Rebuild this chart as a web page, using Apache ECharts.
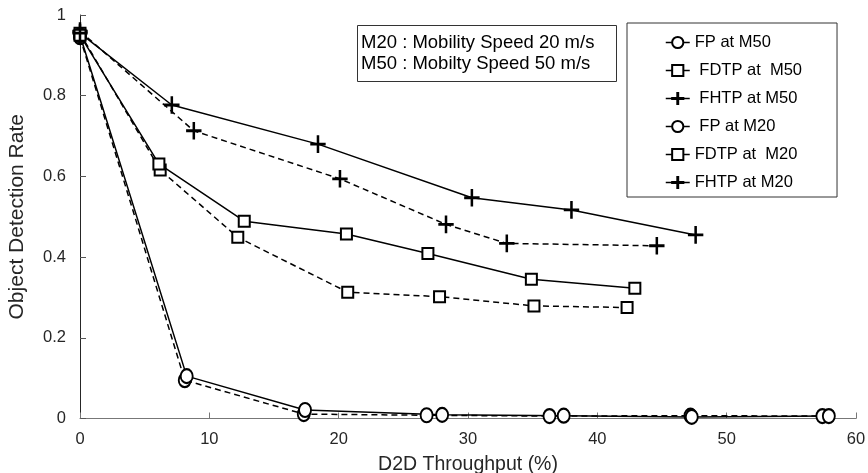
<!DOCTYPE html>
<html>
<head>
<meta charset="utf-8">
<script src="https://cdn.jsdelivr.net/npm/echarts@6/dist/echarts.min.js"></script>
<style>html,body{margin:0;padding:0;background:#fff}#c{width:868px;height:473px}</style>
</head>
<body>
<div id="c"></div>
<script>
// Data
var xTicks = [0, 10, 20, 30, 40, 50, 60];
var yTicks = [0, 0.2, 0.4, 0.6, 0.8, 1];

var xFpM50 = [0, 8.1, 17.3, 26.8, 36.3, 47.2, 57.4];
var yFpM50 = [0.945, 0.095, 0.011, 0.008, 0.006, 0.007, 0.006];
var xFdtpM50 = [0, 6.2, 12.2, 20.7, 27.8, 35.1, 42.3];
var yFdtpM50 = [0.955, 0.616, 0.449, 0.313, 0.302, 0.279, 0.275];
var xFhtpM50 = [0, 8.8, 20.1, 28.3, 33.0, 44.6];
var yFhtpM50 = [0.96, 0.713, 0.594, 0.481, 0.434, 0.428];
var xFpM20 = [0, 8.25, 17.4, 28.0, 37.4, 47.3, 57.9];
var yFpM20 = [0.95, 0.105, 0.021, 0.009, 0.007, 0.004, 0.006];
var xFdtpM20 = [0, 6.1, 12.7, 20.6, 26.9, 34.9, 42.9];
var yFdtpM20 = [0.95, 0.631, 0.489, 0.457, 0.409, 0.345, 0.323];
var xFhtpM20 = [0, 7.1, 18.4, 30.3, 38.0, 47.6];
var yFhtpM20 = [0.955, 0.777, 0.680, 0.547, 0.517, 0.455];

var names = ['FP at M50', ' FDTP at  M50', ' FHTP at M50', ' FP at M20', 'FDTP at  M20', 'FHTP at M20'];

function zip(xs, ys) { return xs.map(function (x, i) { return [x, ys[i]]; }); }

var plusPath = 'path://M9.2,0h1.6v20h-1.6z M0,9.2h20v1.6h-20z';
var FONT = 'Liberation Sans, Arial, Helvetica, sans-serif';

function mk(name, xs, ys, symbol, size, dashed) {
  return {
    name: name,
    type: 'line',
    data: zip(xs, ys),
    symbol: symbol,
    symbolSize: size,
    showAllSymbol: true,
    lineStyle: { color: '#000', width: 1.5, type: dashed ? [6, 4] : 'solid' },
    itemStyle: { color: '#000', borderColor: '#000', borderWidth: 1.5 },
    emphasis: { disabled: true },
    animation: false
  };
}

var chart = echarts.init(document.getElementById('c'));
chart.setOption({
  backgroundColor: '#fff',
  animation: false,
  textStyle: { fontFamily: FONT },
  grid: { left: 80, right: 12, top: 15, bottom: 54.5, containLabel: false, outerBoundsMode: 'none' },
  title: {
    text: 'M20 : Mobility Speed 20 m/s\nM50 : Mobilty Speed 50 m/s',
    left: 357, top: 25,
    borderColor: '#333', borderWidth: 1,
    padding: [7, 22, 8, 4],
    textStyle: { fontFamily: FONT, fontSize: 18.5, fontWeight: 'normal', color: '#000', lineHeight: 21 }
  },
  legend: {
    orient: 'vertical',
    left: 627, top: 23,
    data: names,
    itemWidth: 24, itemHeight: 14, itemGap: 11,
    borderColor: '#333', borderWidth: 1,
    padding: [11, 35, 6, 38],
    lineStyle: { type: 'solid', width: 1.5 },
    textStyle: { fontFamily: FONT, fontSize: 16.5, color: '#000' },
    selectedMode: false
  },
  xAxis: {
    type: 'value', min: 0, max: 60, interval: 10,
    name: 'D2D Throughput (%)', nameLocation: 'middle', nameGap: 36,
    nameTextStyle: { fontFamily: FONT, fontSize: 19.5, color: '#262626' },
    axisLine: { show: true, lineStyle: { color: '#777', width: 1 } },
    axisTick: { show: true, inside: true, length: 6, lineStyle: { color: '#777' } },
    axisLabel: { fontFamily: FONT, fontSize: 16.5, color: '#262626', margin: 12 },
    splitLine: { show: false }
  },
  yAxis: {
    type: 'value', min: 0, max: 1, interval: 0.2,
    name: 'Object Detection Rate', nameLocation: 'middle', nameGap: 52,
    nameTextStyle: { fontFamily: FONT, fontSize: 21, color: '#262626' },
    axisLine: { show: true, lineStyle: { color: '#262626', width: 1 } },
    axisTick: { show: true, inside: true, length: 6, lineStyle: { color: '#555' } },
    axisLabel: { fontFamily: FONT, fontSize: 16.5, color: '#262626', margin: 14,
      formatter: function (v) { return String(Math.round(v * 10) / 10); } },
    splitLine: { show: false }
  },
  series: [
    mk(names[0], xFpM50, yFpM50, 'emptyCircle', [12, 14], true),
    mk(names[1], xFdtpM50, yFdtpM50, 'emptyRect', 11, true),
    mk(names[2], xFhtpM50, yFhtpM50, plusPath, [14, 16], true),
    mk(names[3], xFpM20, yFpM20, 'emptyCircle', [12, 14], false),
    mk(names[4], xFdtpM20, yFdtpM20, 'emptyRect', 11, false),
    mk(names[5], xFhtpM20, yFhtpM20, plusPath, [14, 16], false)
  ]
});
</script>
</body>
</html>
